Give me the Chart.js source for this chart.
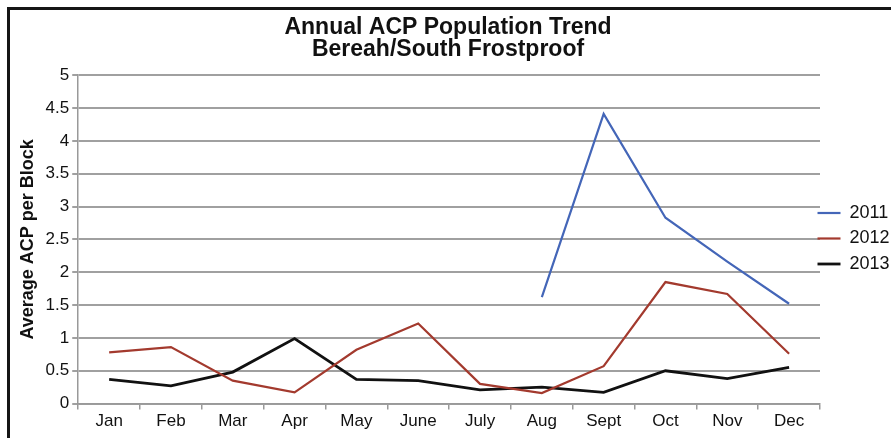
<!DOCTYPE html>
<html>
<head>
<meta charset="utf-8">
<script src="https://cdn.jsdelivr.net/npm/chart.js@4.4.1/dist/chart.umd.min.js"></script>
<style>
html,body{margin:0;padding:0;background:#fff;overflow:hidden;}
#wrap{position:absolute;left:0;top:0;width:891px;height:438px;}
#frame{position:absolute;left:7px;top:7px;width:1000px;height:600px;border:3px solid #151515;box-sizing:border-box;pointer-events:none;}
</style>
</head>
<body>
<div id="wrap"><canvas id="c" width="891" height="438"></canvas></div>
<div id="frame"></div>
<script>
const months = ['Jan','Feb','Mar','Apr','May','June','July','Aug','Sept','Oct','Nov','Dec'];
const y2011 = [null,null,null,null,null,null,null,1.62,4.41,2.83,2.16,1.52];
const y2012 = [0.78,0.86,0.35,0.17,0.82,1.22,0.30,0.16,0.57,1.85,1.67,0.76];
const y2013 = [0.37,0.27,0.48,0.99,0.37,0.35,0.21,0.25,0.17,0.50,0.38,0.55];
const seriesNames = ['2011','2012','2013'];
const FONT = "'Liberation Sans',Arial,sans-serif";

// Legend sits to the right of the plot: reserve a fixed strip, nudge its drawing origin.
const legendTweak = {
  id:'legendTweak',
  beforeLayout(chart){
    const lg = chart.legend;
    if (lg && !lg._tweaked){
      const orig = lg.fit;
      lg.fit = function(){ orig.call(this); this.width = 71; };
      lg._tweaked = true;
    }
  },
  afterLayout(chart){
    const lg = chart.legend;
    lg.left -= 10; lg.right = chart.width + 20; lg.top += 13; lg.bottom += 13;
  }
};

new Chart(document.getElementById('c'), {
  type: 'line',
  data: {
    labels: months,
    datasets: [
      {label: seriesNames[0], data: y2011, borderColor:'#4466b8', backgroundColor:'#4466b8', borderWidth:2.2, pointRadius:0, tension:0, spanGaps:false},
      {label: seriesNames[1], data: y2012, borderColor:'#a33a2e', backgroundColor:'#a33a2e', borderWidth:2.2, pointRadius:0, tension:0},
      {label: seriesNames[2], data: y2013, borderColor:'#111111', backgroundColor:'#111111', borderWidth:2.8, pointRadius:0, tension:0}
    ]
  },
  plugins:[legendTweak],
  options: {
    responsive:false,
    animation:false,
    layout:{padding:{left:5,right:0,top:17,bottom:4}},
    plugins:{
      title:{display:true, text:['Annual ACP Population Trend','Bereah/South Frostproof'], color:'#111',
        font:{family:FONT, size:23, weight:'bold', lineHeight:0.96}, padding:{top:0,bottom:14}},
      legend:{position:'right', align:'center',
        labels:{usePointStyle:true, pointStyle:'line', pointStyleWidth:23, boxHeight:18, color:'#111', padding:7.5,
          font:{family:FONT, size:18}}},
      tooltip:{enabled:false}
    },
    scales:{
      x:{
        offset:true,
        grid:{display:true, drawOnChartArea:false, offset:true, tickLength:6, color:'#999', lineWidth:1.5},
        border:{display:true, color:'#999', width:1.5},
        ticks:{color:'#111', font:{family:FONT, size:17}, padding:2}
      },
      y:{
        min:0, max:5,
        grid:{color:'#a0a0a0', lineWidth:2, tickLength:6},
        border:{display:true, color:'#999', width:1.5},
        ticks:{stepSize:0.5, color:'#111', font:{family:FONT, size:17}, padding:3,
          callback:(v)=>String(v)},
        title:{display:true, text:'Average ACP per Block', color:'#111',
          font:{family:FONT, size:18, weight:'bold'}, padding:{top:12,bottom:4}}
      }
    }
  }
});
</script>
</body>
</html>
